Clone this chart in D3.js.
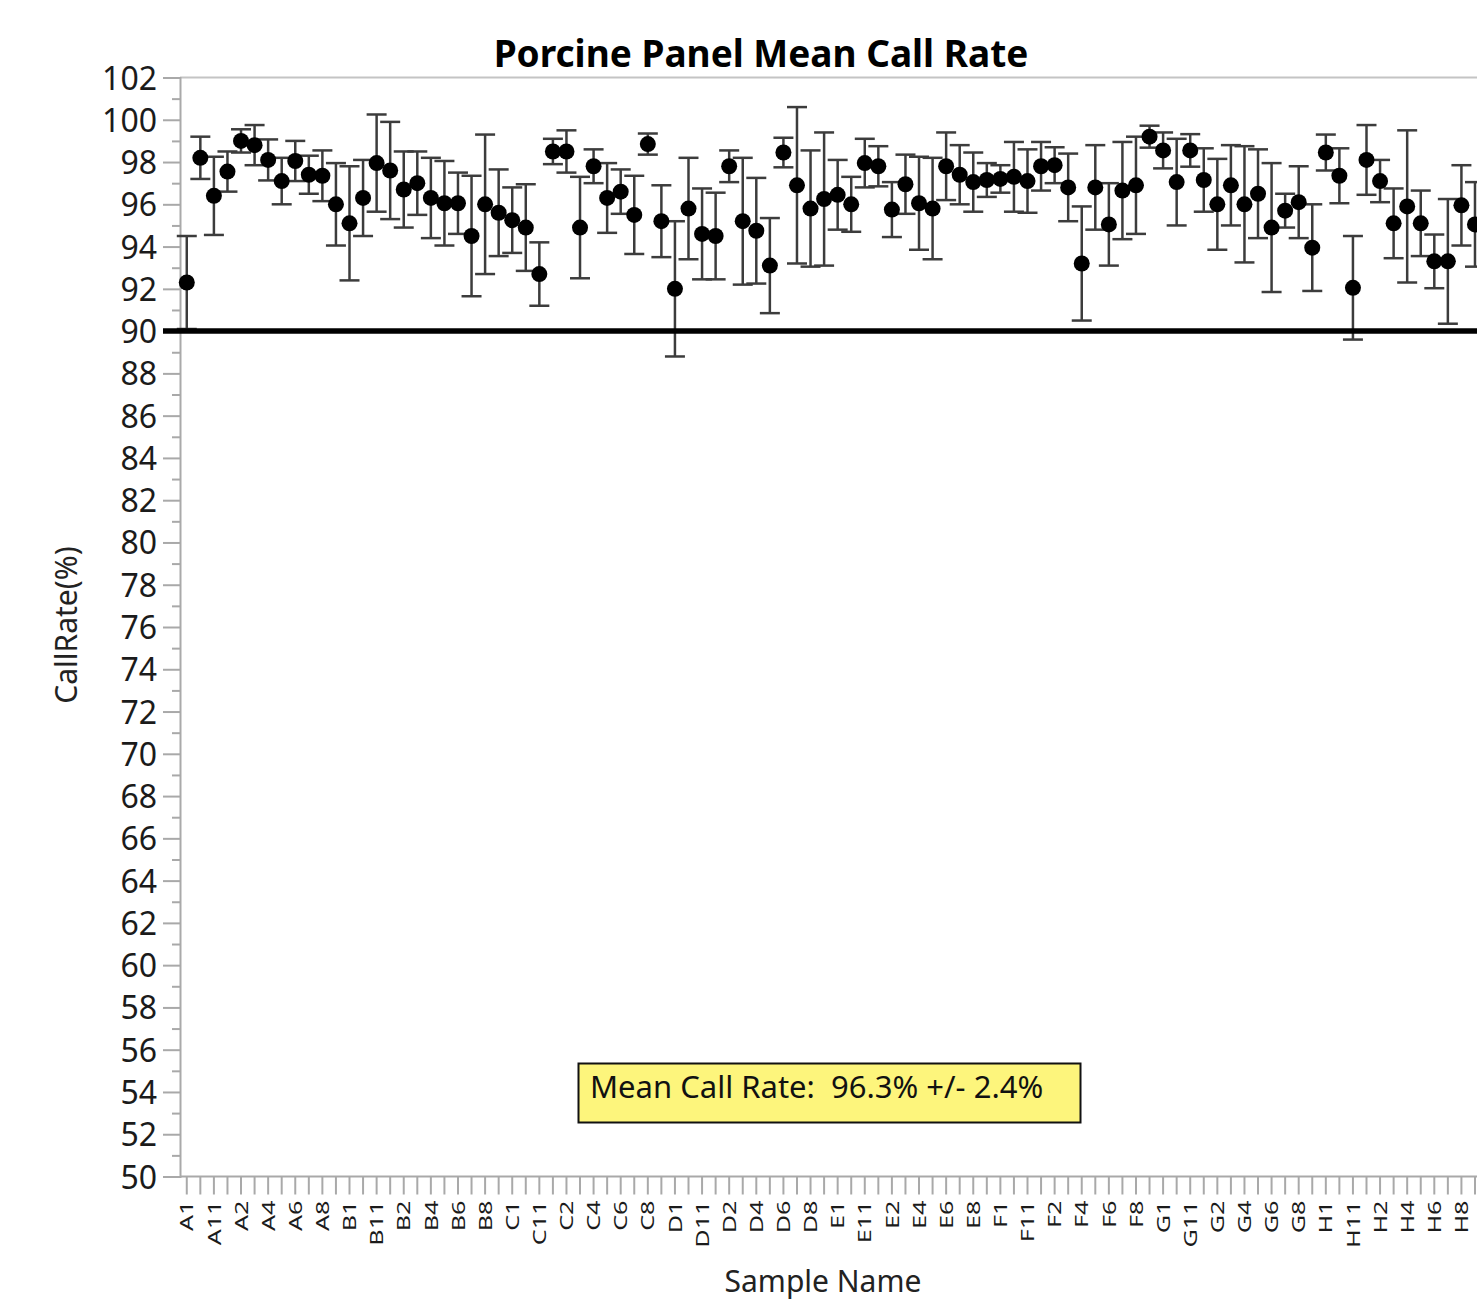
<!DOCTYPE html>
<html>
<head>
<meta charset="utf-8">
<script src="https://cdn.jsdelivr.net/npm/d3@7"></script>
<style>
  html, body { margin: 0; padding: 0; background: #fff; }
  svg { display: block; }
  text { font-family: "Noto Sans", "Open Sans", sans-serif; }
</style>
</head>
<body>
<svg id="chart" width="1477" height="1302"></svg>
<script>
const categories = [
  "A1","A10","A11","A12","A2","A3","A4","A5","A6","A7","A8","A9",
  "B1","B10","B11","B12","B2","B3","B4","B5","B6","B7","B8","B9",
  "C1","C10","C11","C12","C2","C3","C4","C5","C6","C7","C8","C9",
  "D1","D10","D11","D12","D2","D3","D4","D5","D6","D7","D8","D9",
  "E1","E10","E11","E12","E2","E3","E4","E5","E6","E7","E8","E9",
  "F1","F10","F11","F12","F2","F3","F4","F5","F6","F7","F8","F9",
  "G1","G10","G11","G12","G2","G3","G4","G5","G6","G7","G8","G9",
  "H1","H10","H11","H12","H2","H3","H4","H5","H6","H7","H8","H9"
];
const meanRate = [
  92.3, 98.2, 96.4, 97.55, 99.0, 98.8, 98.1, 97.1, 98.05, 97.4, 97.35, 96.0,
  95.1, 96.3, 97.95, 97.6, 96.7, 97.0, 96.3, 96.05, 96.05, 94.5, 96.0, 95.6,
  95.25, 94.9, 92.7, 98.5, 98.5, 94.9, 97.8, 96.3, 96.6, 95.5, 98.85, 95.2,
  92.0, 95.8, 94.6, 94.5, 97.8, 95.2, 94.75, 93.1, 98.45, 96.9, 95.8, 96.25,
  96.45, 96.0, 97.95, 97.8, 95.75, 96.95, 96.05, 95.8, 97.8, 97.4, 97.05, 97.15,
  97.2, 97.3, 97.1, 97.8, 97.85, 96.8, 93.2, 96.8, 95.05, 96.65, 96.9, 99.2,
  98.55, 97.05, 98.55, 97.15, 96.0, 96.9, 96.0, 96.5, 94.9, 95.7, 96.1, 93.95,
  98.45, 97.35, 92.05, 98.1, 97.1, 95.1, 95.9, 95.1, 93.3, 93.3, 95.95, 95.05
];
const sdRate = [
  2.2, 1.0, 1.85, 0.95, 0.55, 0.95, 0.97, 1.1, 0.95, 0.9, 1.2, 1.95,
  2.7, 1.8, 2.3, 2.3, 1.8, 1.5, 1.9, 2.0, 1.45, 2.85, 3.3, 2.05,
  1.55, 2.05, 1.5, 0.6, 1.0, 2.4, 0.8, 1.65, 1.05, 1.85, 0.5, 1.7,
  3.2, 2.4, 2.15, 2.05, 0.75, 3.0, 2.5, 2.25, 0.7, 3.7, 2.75, 3.15,
  1.65, 1.3, 1.15, 0.95, 1.3, 1.4, 2.2, 2.4, 1.6, 1.4, 1.4, 0.8,
  0.65, 1.65, 1.5, 1.15, 0.85, 1.6, 2.7, 2.0, 1.95, 2.3, 2.3, 0.52,
  0.85, 2.05, 0.77, 1.5, 2.15, 1.9, 2.75, 2.1, 3.05, 0.8, 1.7, 2.05,
  0.85, 1.3, 2.45, 1.65, 1.0, 1.65, 3.6, 1.55, 1.27, 2.95, 1.9, 2.0
];
const yMajorTicks = [50,52,54,56,58,60,62,64,66,68,70,72,74,76,78,80,82,84,86,88,90,92,94,96,98,100,102];
const yMinorTicks = [51,53,55,57,59,61,63,65,67,69,71,73,75,77,79,81,83,85,87,89,91,93,95,97,99,101];
const thresholdValue = [90];
const titleText = "Porcine Panel Mean Call Rate";
const xTitle = "Sample Name";
const yTitle = "CallRate(%)";
const noteText = "Mean Call Rate:  96.3% +/- 2.4%";

(function () {
const svg = d3.select("#chart");
svg.append("rect").attr("width",1477).attr("height",1302).attr("fill","#fff");

const plotLeft = 180, plotTop = 77.5, plotBottom = 1176.5, step = 13.56;
const x = d3.scaleBand().domain(categories).range([plotLeft, plotLeft + step*categories.length]).padding(0);
const y = d3.scaleLinear().domain([50,102]).range([plotBottom, plotTop]);
const cx = c => x(c) + x.bandwidth()/2;

const axisColor = "#a9a9a9";
const textColor = "#1b1b1b";

// plot frame (top border)
svg.append("line").attr("x1", plotLeft).attr("x2", 1477).attr("y1", plotTop).attr("y2", plotTop)
  .attr("stroke", "#c4c4c4").attr("stroke-width", 2);

// Y axis major
const yAxis = svg.append("g").attr("transform", `translate(${plotLeft},0)`)
  .call(d3.axisLeft(y).tickValues(yMajorTicks).tickSize(17).tickPadding(6).tickFormat(d3.format("d")));
yAxis.select(".domain").attr("stroke", axisColor).attr("stroke-width", 2);
yAxis.selectAll(".tick line").attr("stroke", axisColor).attr("stroke-width", 2);
yAxis.selectAll(".tick text").attr("fill", textColor).style("font-size", "32px")
  .style("font-family", "'Noto Sans', sans-serif").attr("dy", "0.36em");
// Y axis minor
const yMinor = svg.append("g").attr("transform", `translate(${plotLeft},0)`)
  .call(d3.axisLeft(y).tickValues(yMinorTicks).tickSize(8).tickFormat(""));
yMinor.select(".domain").remove();
yMinor.selectAll(".tick line").attr("stroke", axisColor).attr("stroke-width", 2);

// X axis
const stretch = 1.36;
const xAxis = svg.append("g").attr("transform", `translate(0,${plotBottom})`)
  .call(d3.axisBottom(x).tickSize(18).tickFormat((d,i) => i % 2 === 0 ? d : ""));
xAxis.select(".domain").attr("stroke", axisColor).attr("stroke-width", 2)
  .attr("d", `M${plotLeft},0H1477`);
xAxis.selectAll(".tick line").attr("stroke", axisColor).attr("stroke-width", 2);
xAxis.selectAll(".tick text")
  .attr("fill", textColor)
  .style("font-size", "18.5px")
  .style("font-family", "'Noto Sans', sans-serif")
  .attr("text-anchor", "end")
  .attr("transform", `rotate(-90) scale(${stretch},1)`)
  .attr("x", -24 / stretch)
  .attr("y", 0)
  .attr("dy", "0.36em");

// error bars
const bars = svg.append("g");
const capW = 10;
categories.forEach((c, i) => {
  const xc = cx(c), lo = y(meanRate[i] - sdRate[i]), hi = y(meanRate[i] + sdRate[i]);
  bars.append("line").attr("x1", xc).attr("x2", xc).attr("y1", lo).attr("y2", hi)
    .attr("stroke", "#3c3c3c").attr("stroke-width", 2.5);
  bars.append("line").attr("x1", xc - capW).attr("x2", xc + capW).attr("y1", hi).attr("y2", hi)
    .attr("stroke", "#3c3c3c").attr("stroke-width", 2.5);
  bars.append("line").attr("x1", xc - capW).attr("x2", xc + capW).attr("y1", lo).attr("y2", lo)
    .attr("stroke", "#3c3c3c").attr("stroke-width", 2.5);
});

// threshold line
svg.selectAll(".thresh").data(thresholdValue).enter().append("line")
  .attr("x1", 163).attr("x2", 1477).attr("y1", d => y(d)).attr("y2", d => y(d))
  .attr("stroke", "#000").attr("stroke-width", 5.5);

// points
svg.append("g").selectAll("circle").data(categories).enter().append("circle")
  .attr("cx", d => cx(d)).attr("cy", (d,i) => y(meanRate[i])).attr("r", 8).attr("fill", "#000");

// title
svg.append("text").attr("x", 761).attr("y", 67).attr("text-anchor", "middle")
  .style("font-size", "37px").style("font-weight", "bold").attr("fill", "#000").text(titleText);

// axis titles
svg.append("text").attr("transform", "translate(77,625) rotate(-90)").attr("text-anchor", "middle")
  .style("font-size", "30px").attr("fill", "#222").text(yTitle);
svg.append("text").attr("x", 823).attr("y", 1292).attr("text-anchor", "middle")
  .style("font-size", "30px").attr("fill", "#222").text(xTitle);

// note box
svg.append("rect").attr("x", 578.5).attr("y", 1063.5).attr("width", 502).attr("height", 59)
  .attr("fill", "#fdf57c").attr("stroke", "#111").attr("stroke-width", 2);
svg.append("text").attr("x", 590).attr("y", 1098).style("font-size", "31px")
  .style("white-space", "pre").attr("xml:space", "preserve")
  .attr("fill", "#111").text(noteText);
})();
</script>
</body>
</html>
